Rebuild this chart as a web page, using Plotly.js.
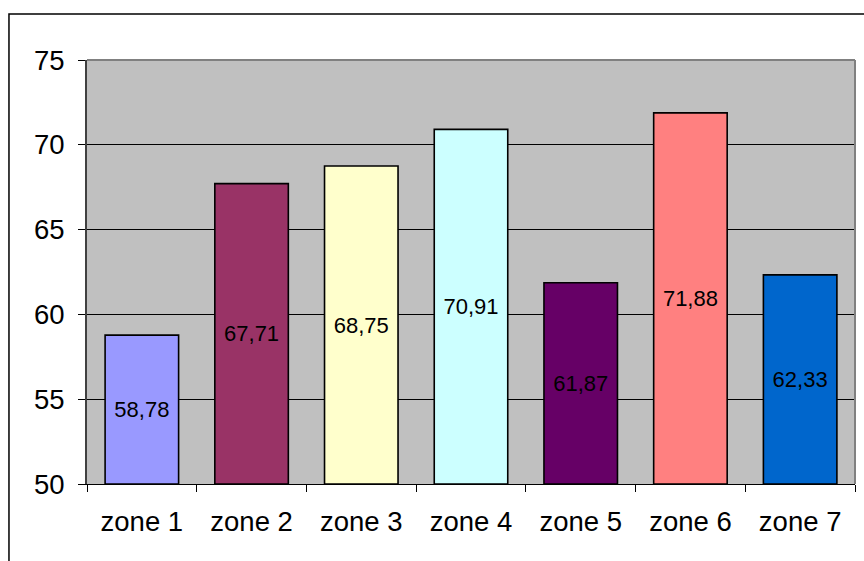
<!DOCTYPE html>
<html>
<head>
<meta charset="utf-8">
<script src="https://cdn.plot.ly/plotly-3.0.1.min.js"></script>
<style>html,body{margin:0;padding:0;background:#fff;}#chart{width:864px;height:561px;}</style>
</head>
<body>
<div id="chart"></div>
<script>
const categories = ["zone 1", "zone 2", "zone 3", "zone 4", "zone 5", "zone 6", "zone 7"];
const values = [58.78, 67.71, 68.75, 70.91, 61.87, 71.88, 62.33];
const barColors = ["#9999FF", "#993366", "#FFFFCC", "#CCFFFF", "#660066", "#FF8080", "#0066CC"];
const yTicks = [50, 55, 60, 65, 70, 75];
const axisMin = 50;

const labels = values.map(v => v.toFixed(2).replace('.', ','));

const trace = {
  type: 'bar',
  x: categories,
  base: axisMin,
  y: values.map(v => v - axisMin),
  width: 0.67,
  marker: {color: barColors, line: {color: '#000000', width: 1.6}},
  text: labels,
  textposition: 'inside',
  insidetextanchor: 'middle',
  textangle: 0,
  constraintext: 'none',
  textfont: {family: 'Arial, "Liberation Sans", sans-serif', size: 22, color: '#000000'},
  hoverinfo: 'none'
};

const layout = {
  width: 864, height: 561,
  margin: {l: 87, r: 9, t: 60, b: 77},
  paper_bgcolor: '#FFFFFF',
  plot_bgcolor: '#C0C0C0',
  showlegend: false,
  font: {family: 'Arial, "Liberation Sans", sans-serif', color: '#000000'},
  xaxis: {
    type: 'category',
    tickson: 'boundaries',
    ticks: 'outside', ticklen: 7, tickcolor: '#000000', tickwidth: 1,
    showline: true, linecolor: '#000000', linewidth: 1,
    showgrid: false,
    tickfont: {size: 27.5, color: '#000000'},
    ticklabelstandoff: 13
  },
  yaxis: {
    range: [50, 75],
    tickvals: yTicks,
    ticktext: yTicks.map(String),
    ticks: 'outside', ticklen: 7, tickcolor: '#000000', tickwidth: 1,
    showline: true, linecolor: '#404040', linewidth: 2,
    showgrid: true, gridcolor: '#000000', gridwidth: 1,
    zeroline: false,
    tickfont: {size: 27.5, color: '#000000'},
    ticklabelstandoff: 8
  },
  shapes: [
    {type: 'line', xref: 'paper', yref: 'paper', x0: 0, x1: 1, y0: 1, y1: 1, line: {color: '#808080', width: 2}},
    {type: 'line', xref: 'paper', yref: 'paper', x0: 1, x1: 1, y0: 0, y1: 1, line: {color: '#808080', width: 2}},
    {type: 'rect', xref: 'paper', yref: 'paper', x0: -0.1016, x1: 1.5, y0: -0.5, y1: 1.1085, line: {color: '#000000', width: 1.5}, fillcolor: 'rgba(0,0,0,0)'}
  ]
};

Plotly.newPlot('chart', [trace], layout, {displayModeBar: false, staticPlot: true});
</script>
</body>
</html>
